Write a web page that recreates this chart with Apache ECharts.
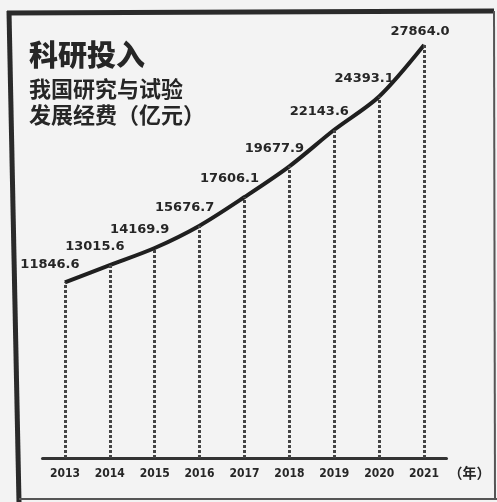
<!DOCTYPE html>
<html>
<head>
<meta charset="utf-8">
<script src="https://cdn.jsdelivr.net/npm/echarts@6/dist/echarts.min.js"></script>
<style>
  html, body { margin: 0; padding: 0; background: #f3f3f3; }
  #main { width: 497px; height: 502px; }
</style>
</head>
<body>
<div id="main"></div>
<script>
// 年份与经费（亿元）
const years = ['2013', '2014', '2015', '2016', '2017', '2018', '2019', '2020', '2021']
const spending = [11846.6, 13015.6, 14169.9, 15676.7, 17606.1, 19677.9, 22143.6, 24393.1, 27864.0]

const ink = '#262626'

let chart = echarts.init(document.getElementById('main'))

const option = {
  backgroundColor: '#f3f3f3',
  animation: false,
  title: {
    text: '科研投入',
    subtext: '我国研究与试验\n发展经费（亿元）',
    left: 24,
    top: 36,
    itemGap: 6,
    textStyle: {
      fontFamily: 'Noto Sans CJK SC',
      fontSize: 29,
      fontWeight: 900,
      lineHeight: 28,
      color: ink
    },
    subtextStyle: {
      fontFamily: 'Noto Sans CJK SC',
      fontSize: 22,
      fontWeight: 'bold',
      lineHeight: 26,
      color: ink
    }
  },
  grid: {
    left: 42.5,
    right: 50.5,
    top: 45,
    bottom: 44
  },
  xAxis: {
    type: 'category',
    data: years,
    boundaryGap: true,
    name: '（年）',
    nameLocation: 'end',
    nameGap: 2,
    nameTextStyle: {
      fontFamily: 'Noto Sans CJK SC',
      fontSize: 14,
      fontWeight: 'bold',
      color: ink,
      verticalAlign: 'top',
      padding: [8, 0, 0, 0]
    },
    axisLine: { lineStyle: { color: '#333', width: 3 } },
    axisTick: { show: false },
    axisLabel: {
      margin: 10,
      fontFamily: 'DejaVu Sans Condensed',
      fontSize: 12,
      fontWeight: 'bold',
      color: ink
    }
  },
  yAxis: {
    type: 'value',
    min: 0,
    max: 27864,
    show: false
  },
  series: [
    {
      type: 'line',
      smooth: 0.3,
      symbol: 'circle',
      symbolSize: 1,
      itemStyle: { color: '#1f1f1f' },
      lineStyle: { color: '#1f1f1f', width: 4 },
      data: spending.map((v, i) => {
        let item = { value: v }
        if (i === spending.length - 1) {
          item.label = { offset: [-4, -1] }
        }
        return item
      }),
      label: {
        show: true,
        position: 'top',
        offset: [-15, -6],
        fontFamily: 'DejaVu Sans',
        fontSize: 13,
        fontWeight: 'bold',
        color: ink,
        formatter: p => Number(p.value).toFixed(1)
      },
      markLine: {
        silent: true,
        symbol: 'none',
        label: { show: false },
        lineStyle: { color: '#444', width: 3, type: [3, 2] },
        data: spending.map((v, i) => [
          { coord: [i, 0] },
          { coord: [i, v] }
        ])
      },
      z: 3
    }
  ],
  graphic: [
    // 外框
    { type: 'line', shape: { x1: 7, y1: 13, x2: 494, y2: 11 }, style: { stroke: '#2a2a2a', lineWidth: 5 } },
    { type: 'line', shape: { x1: 9, y1: 11, x2: 19, y2: 502 }, style: { stroke: '#2a2a2a', lineWidth: 5 } },
    { type: 'line', shape: { x1: 494, y1: 11, x2: 495, y2: 500 }, style: { stroke: '#555', lineWidth: 2 } },
    { type: 'line', shape: { x1: 19, y1: 499, x2: 497, y2: 499 }, style: { stroke: '#555', lineWidth: 2 } }
  ]
}

chart.setOption(option)
</script>
</body>
</html>
